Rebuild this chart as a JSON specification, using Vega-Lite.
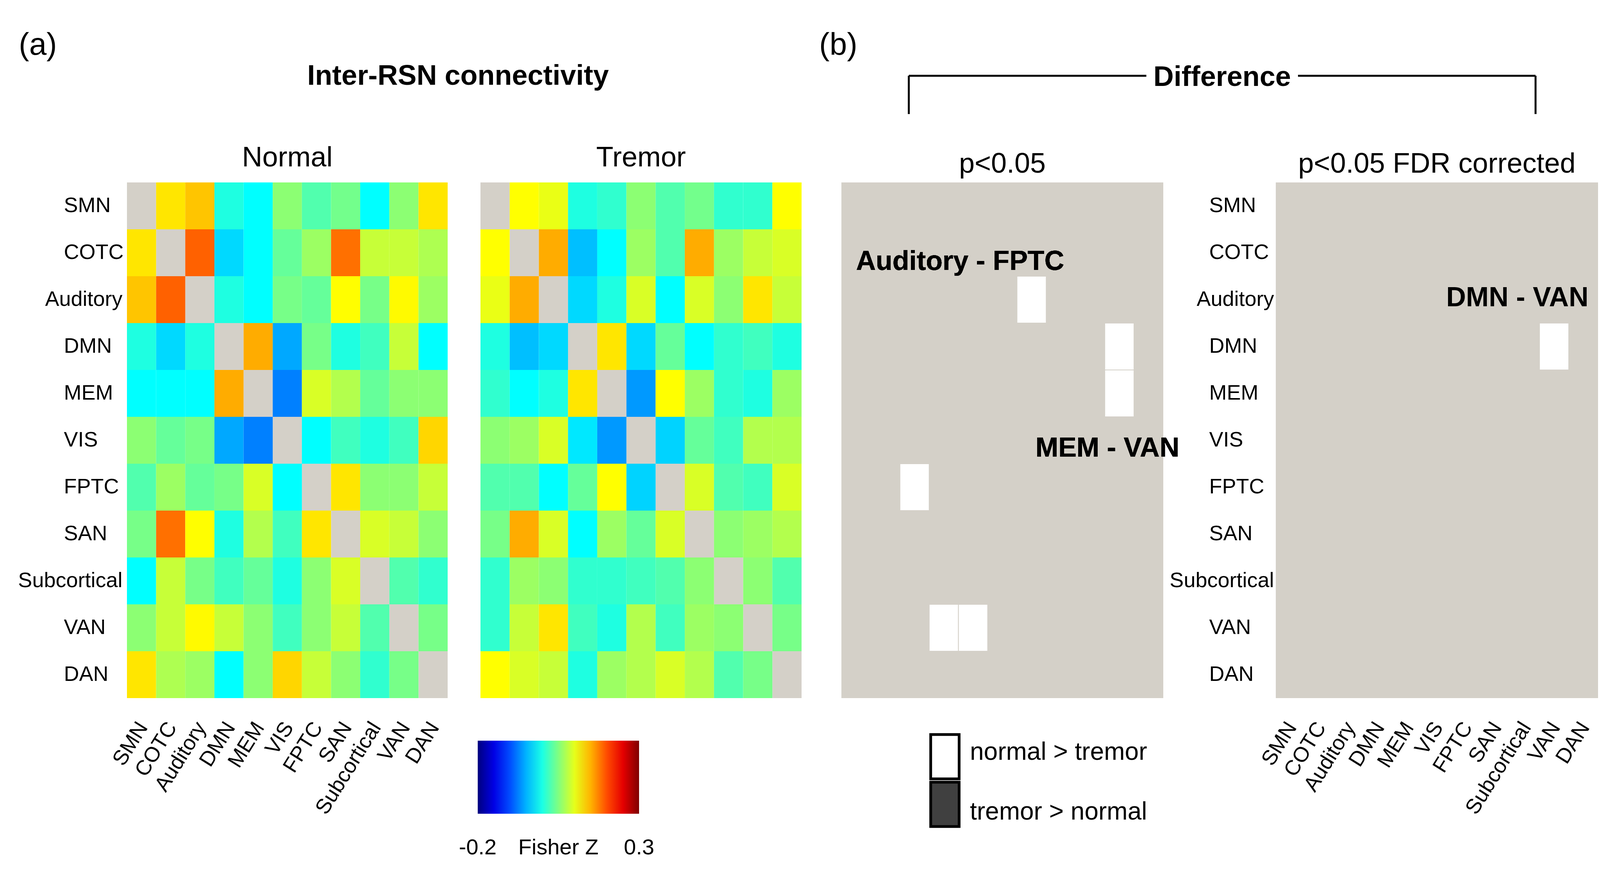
{
  "$schema": "https://vega.github.io/schema/vega-lite/v6.json",
  "background": "white",
  "padding": {"left": 45, "top": 76, "right": 6, "bottom": 0},
  "config": {
    "font": "Liberation Sans",
    "view": {"stroke": null},
    "axis": {"domain": false, "ticks": false, "grid": false, "labelFontSize": 54, "labelColor": "#000000", "labelFont": "Liberation Sans", "labelOverlap": false, "labelBound": false, "labelFlush": false, "labelLimit": 2000},
    "legend": {"labelLimit": 2000, "labelFont": "Liberation Sans"},
    "title": {"fontSize": 72, "fontWeight": "normal", "color": "#000000", "font": "Liberation Sans", "anchor": "middle"},
    "text": {"font": "Liberation Sans", "color": "#000000"}
  },
  "datasets": {
    "conn": [
      {"g":"Normal","r":"SMN","c":"SMN","z":null},{"g":"Normal","r":"SMN","c":"COTC","z":0.125},{"g":"Normal","r":"SMN","c":"Auditory","z":0.141},{"g":"Normal","r":"SMN","c":"DMN","z":0.002},{"g":"Normal","r":"SMN","c":"MEM","z":-0.0125},{"g":"Normal","r":"SMN","c":"VIS","z":0.056},{"g":"Normal","r":"SMN","c":"FPTC","z":0.027},{"g":"Normal","r":"SMN","c":"SAN","z":0.044},{"g":"Normal","r":"SMN","c":"Subcortical","z":-0.0125},{"g":"Normal","r":"SMN","c":"VAN","z":0.056},{"g":"Normal","r":"SMN","c":"DAN","z":0.125},
      {"g":"Normal","r":"COTC","c":"SMN","z":0.125},{"g":"Normal","r":"COTC","c":"COTC","z":null},{"g":"Normal","r":"COTC","c":"Auditory","z":0.19},{"g":"Normal","r":"COTC","c":"DMN","z":-0.031},{"g":"Normal","r":"COTC","c":"MEM","z":-0.0125},{"g":"Normal","r":"COTC","c":"VIS","z":0.037},{"g":"Normal","r":"COTC","c":"FPTC","z":0.064},{"g":"Normal","r":"COTC","c":"SAN","z":0.1825},{"g":"Normal","r":"COTC","c":"Subcortical","z":0.085},{"g":"Normal","r":"COTC","c":"VAN","z":0.085},{"g":"Normal","r":"COTC","c":"DAN","z":0.073},
      {"g":"Normal","r":"Auditory","c":"SMN","z":0.141},{"g":"Normal","r":"Auditory","c":"COTC","z":0.19},{"g":"Normal","r":"Auditory","c":"Auditory","z":null},{"g":"Normal","r":"Auditory","c":"DMN","z":0.002},{"g":"Normal","r":"Auditory","c":"MEM","z":-0.0125},{"g":"Normal","r":"Auditory","c":"VIS","z":0.046},{"g":"Normal","r":"Auditory","c":"FPTC","z":0.037},{"g":"Normal","r":"Auditory","c":"SAN","z":0.113},{"g":"Normal","r":"Auditory","c":"Subcortical","z":0.046},{"g":"Normal","r":"Auditory","c":"VAN","z":0.115},{"g":"Normal","r":"Auditory","c":"DAN","z":0.064},
      {"g":"Normal","r":"DMN","c":"SMN","z":0.002},{"g":"Normal","r":"DMN","c":"COTC","z":-0.031},{"g":"Normal","r":"DMN","c":"Auditory","z":0.002},{"g":"Normal","r":"DMN","c":"DMN","z":null},{"g":"Normal","r":"DMN","c":"MEM","z":0.153},{"g":"Normal","r":"DMN","c":"VIS","z":-0.055},{"g":"Normal","r":"DMN","c":"FPTC","z":0.046},{"g":"Normal","r":"DMN","c":"SAN","z":0.002},{"g":"Normal","r":"DMN","c":"Subcortical","z":0.019},{"g":"Normal","r":"DMN","c":"VAN","z":0.085},{"g":"Normal","r":"DMN","c":"DAN","z":-0.0125},
      {"g":"Normal","r":"MEM","c":"SMN","z":-0.0125},{"g":"Normal","r":"MEM","c":"COTC","z":-0.0125},{"g":"Normal","r":"MEM","c":"Auditory","z":-0.0125},{"g":"Normal","r":"MEM","c":"DMN","z":0.153},{"g":"Normal","r":"MEM","c":"MEM","z":null},{"g":"Normal","r":"MEM","c":"VIS","z":-0.075},{"g":"Normal","r":"MEM","c":"FPTC","z":0.094},{"g":"Normal","r":"MEM","c":"SAN","z":0.075},{"g":"Normal","r":"MEM","c":"Subcortical","z":0.037},{"g":"Normal","r":"MEM","c":"VAN","z":0.056},{"g":"Normal","r":"MEM","c":"DAN","z":0.056},
      {"g":"Normal","r":"VIS","c":"SMN","z":0.056},{"g":"Normal","r":"VIS","c":"COTC","z":0.037},{"g":"Normal","r":"VIS","c":"Auditory","z":0.046},{"g":"Normal","r":"VIS","c":"DMN","z":-0.055},{"g":"Normal","r":"VIS","c":"MEM","z":-0.075},{"g":"Normal","r":"VIS","c":"VIS","z":null},{"g":"Normal","r":"VIS","c":"FPTC","z":-0.0125},{"g":"Normal","r":"VIS","c":"SAN","z":0.019},{"g":"Normal","r":"VIS","c":"Subcortical","z":0.002},{"g":"Normal","r":"VIS","c":"VAN","z":0.019},{"g":"Normal","r":"VIS","c":"DAN","z":0.1325},
      {"g":"Normal","r":"FPTC","c":"SMN","z":0.027},{"g":"Normal","r":"FPTC","c":"COTC","z":0.064},{"g":"Normal","r":"FPTC","c":"Auditory","z":0.037},{"g":"Normal","r":"FPTC","c":"DMN","z":0.046},{"g":"Normal","r":"FPTC","c":"MEM","z":0.094},{"g":"Normal","r":"FPTC","c":"VIS","z":-0.0125},{"g":"Normal","r":"FPTC","c":"FPTC","z":null},{"g":"Normal","r":"FPTC","c":"SAN","z":0.125},{"g":"Normal","r":"FPTC","c":"Subcortical","z":0.056},{"g":"Normal","r":"FPTC","c":"VAN","z":0.056},{"g":"Normal","r":"FPTC","c":"DAN","z":0.085},
      {"g":"Normal","r":"SAN","c":"SMN","z":0.046},{"g":"Normal","r":"SAN","c":"COTC","z":0.1825},{"g":"Normal","r":"SAN","c":"Auditory","z":0.113},{"g":"Normal","r":"SAN","c":"DMN","z":0.002},{"g":"Normal","r":"SAN","c":"MEM","z":0.075},{"g":"Normal","r":"SAN","c":"VIS","z":0.019},{"g":"Normal","r":"SAN","c":"FPTC","z":0.125},{"g":"Normal","r":"SAN","c":"SAN","z":null},{"g":"Normal","r":"SAN","c":"Subcortical","z":0.094},{"g":"Normal","r":"SAN","c":"VAN","z":0.085},{"g":"Normal","r":"SAN","c":"DAN","z":0.056},
      {"g":"Normal","r":"Subcortical","c":"SMN","z":-0.0125},{"g":"Normal","r":"Subcortical","c":"COTC","z":0.085},{"g":"Normal","r":"Subcortical","c":"Auditory","z":0.046},{"g":"Normal","r":"Subcortical","c":"DMN","z":0.019},{"g":"Normal","r":"Subcortical","c":"MEM","z":0.037},{"g":"Normal","r":"Subcortical","c":"VIS","z":0.002},{"g":"Normal","r":"Subcortical","c":"FPTC","z":0.056},{"g":"Normal","r":"Subcortical","c":"SAN","z":0.094},{"g":"Normal","r":"Subcortical","c":"Subcortical","z":null},{"g":"Normal","r":"Subcortical","c":"VAN","z":0.027},{"g":"Normal","r":"Subcortical","c":"DAN","z":0.011},
      {"g":"Normal","r":"VAN","c":"SMN","z":0.056},{"g":"Normal","r":"VAN","c":"COTC","z":0.085},{"g":"Normal","r":"VAN","c":"Auditory","z":0.115},{"g":"Normal","r":"VAN","c":"DMN","z":0.085},{"g":"Normal","r":"VAN","c":"MEM","z":0.056},{"g":"Normal","r":"VAN","c":"VIS","z":0.019},{"g":"Normal","r":"VAN","c":"FPTC","z":0.056},{"g":"Normal","r":"VAN","c":"SAN","z":0.085},{"g":"Normal","r":"VAN","c":"Subcortical","z":0.027},{"g":"Normal","r":"VAN","c":"VAN","z":null},{"g":"Normal","r":"VAN","c":"DAN","z":0.046},
      {"g":"Normal","r":"DAN","c":"SMN","z":0.125},{"g":"Normal","r":"DAN","c":"COTC","z":0.073},{"g":"Normal","r":"DAN","c":"Auditory","z":0.064},{"g":"Normal","r":"DAN","c":"DMN","z":-0.0125},{"g":"Normal","r":"DAN","c":"MEM","z":0.056},{"g":"Normal","r":"DAN","c":"VIS","z":0.1325},{"g":"Normal","r":"DAN","c":"FPTC","z":0.085},{"g":"Normal","r":"DAN","c":"SAN","z":0.056},{"g":"Normal","r":"DAN","c":"Subcortical","z":0.011},{"g":"Normal","r":"DAN","c":"VAN","z":0.046},{"g":"Normal","r":"DAN","c":"DAN","z":null},
      {"g":"Tremor","r":"SMN","c":"SMN","z":null},{"g":"Tremor","r":"SMN","c":"COTC","z":0.1125},{"g":"Tremor","r":"SMN","c":"Auditory","z":0.102},{"g":"Tremor","r":"SMN","c":"DMN","z":0.002},{"g":"Tremor","r":"SMN","c":"MEM","z":0.011},{"g":"Tremor","r":"SMN","c":"VIS","z":0.056},{"g":"Tremor","r":"SMN","c":"FPTC","z":0.027},{"g":"Tremor","r":"SMN","c":"SAN","z":0.044},{"g":"Tremor","r":"SMN","c":"Subcortical","z":0.011},{"g":"Tremor","r":"SMN","c":"VAN","z":0.011},{"g":"Tremor","r":"SMN","c":"DAN","z":0.1125},
      {"g":"Tremor","r":"COTC","c":"SMN","z":0.1125},{"g":"Tremor","r":"COTC","c":"COTC","z":null},{"g":"Tremor","r":"COTC","c":"Auditory","z":0.153},{"g":"Tremor","r":"COTC","c":"DMN","z":-0.044},{"g":"Tremor","r":"COTC","c":"MEM","z":-0.0125},{"g":"Tremor","r":"COTC","c":"VIS","z":0.064},{"g":"Tremor","r":"COTC","c":"FPTC","z":0.027},{"g":"Tremor","r":"COTC","c":"SAN","z":0.153},{"g":"Tremor","r":"COTC","c":"Subcortical","z":0.064},{"g":"Tremor","r":"COTC","c":"VAN","z":0.085},{"g":"Tremor","r":"COTC","c":"DAN","z":0.094},
      {"g":"Tremor","r":"Auditory","c":"SMN","z":0.102},{"g":"Tremor","r":"Auditory","c":"COTC","z":0.153},{"g":"Tremor","r":"Auditory","c":"Auditory","z":null},{"g":"Tremor","r":"Auditory","c":"DMN","z":-0.031},{"g":"Tremor","r":"Auditory","c":"MEM","z":0.002},{"g":"Tremor","r":"Auditory","c":"VIS","z":0.094},{"g":"Tremor","r":"Auditory","c":"FPTC","z":-0.0125},{"g":"Tremor","r":"Auditory","c":"SAN","z":0.094},{"g":"Tremor","r":"Auditory","c":"Subcortical","z":0.056},{"g":"Tremor","r":"Auditory","c":"VAN","z":0.125},{"g":"Tremor","r":"Auditory","c":"DAN","z":0.085},
      {"g":"Tremor","r":"DMN","c":"SMN","z":0.002},{"g":"Tremor","r":"DMN","c":"COTC","z":-0.044},{"g":"Tremor","r":"DMN","c":"Auditory","z":-0.031},{"g":"Tremor","r":"DMN","c":"DMN","z":null},{"g":"Tremor","r":"DMN","c":"MEM","z":0.125},{"g":"Tremor","r":"DMN","c":"VIS","z":-0.031},{"g":"Tremor","r":"DMN","c":"FPTC","z":0.037},{"g":"Tremor","r":"DMN","c":"SAN","z":-0.0125},{"g":"Tremor","r":"DMN","c":"Subcortical","z":0.011},{"g":"Tremor","r":"DMN","c":"VAN","z":0.019},{"g":"Tremor","r":"DMN","c":"DAN","z":0.002},
      {"g":"Tremor","r":"MEM","c":"SMN","z":0.011},{"g":"Tremor","r":"MEM","c":"COTC","z":-0.0125},{"g":"Tremor","r":"MEM","c":"Auditory","z":0.002},{"g":"Tremor","r":"MEM","c":"DMN","z":0.125},{"g":"Tremor","r":"MEM","c":"MEM","z":null},{"g":"Tremor","r":"MEM","c":"VIS","z":-0.0625},{"g":"Tremor","r":"MEM","c":"FPTC","z":0.1125},{"g":"Tremor","r":"MEM","c":"SAN","z":0.064},{"g":"Tremor","r":"MEM","c":"Subcortical","z":0.011},{"g":"Tremor","r":"MEM","c":"VAN","z":0.002},{"g":"Tremor","r":"MEM","c":"DAN","z":0.064},
      {"g":"Tremor","r":"VIS","c":"SMN","z":0.056},{"g":"Tremor","r":"VIS","c":"COTC","z":0.064},{"g":"Tremor","r":"VIS","c":"Auditory","z":0.094},{"g":"Tremor","r":"VIS","c":"DMN","z":-0.024},{"g":"Tremor","r":"VIS","c":"MEM","z":-0.0625},{"g":"Tremor","r":"VIS","c":"VIS","z":null},{"g":"Tremor","r":"VIS","c":"FPTC","z":-0.034},{"g":"Tremor","r":"VIS","c":"SAN","z":0.037},{"g":"Tremor","r":"VIS","c":"Subcortical","z":0.019},{"g":"Tremor","r":"VIS","c":"VAN","z":0.075},{"g":"Tremor","r":"VIS","c":"DAN","z":0.075},
      {"g":"Tremor","r":"FPTC","c":"SMN","z":0.027},{"g":"Tremor","r":"FPTC","c":"COTC","z":0.027},{"g":"Tremor","r":"FPTC","c":"Auditory","z":-0.0125},{"g":"Tremor","r":"FPTC","c":"DMN","z":0.037},{"g":"Tremor","r":"FPTC","c":"MEM","z":0.1125},{"g":"Tremor","r":"FPTC","c":"VIS","z":-0.034},{"g":"Tremor","r":"FPTC","c":"FPTC","z":null},{"g":"Tremor","r":"FPTC","c":"SAN","z":0.094},{"g":"Tremor","r":"FPTC","c":"Subcortical","z":0.027},{"g":"Tremor","r":"FPTC","c":"VAN","z":0.019},{"g":"Tremor","r":"FPTC","c":"DAN","z":0.094},
      {"g":"Tremor","r":"SAN","c":"SMN","z":0.046},{"g":"Tremor","r":"SAN","c":"COTC","z":0.153},{"g":"Tremor","r":"SAN","c":"Auditory","z":0.094},{"g":"Tremor","r":"SAN","c":"DMN","z":-0.0125},{"g":"Tremor","r":"SAN","c":"MEM","z":0.064},{"g":"Tremor","r":"SAN","c":"VIS","z":0.037},{"g":"Tremor","r":"SAN","c":"FPTC","z":0.094},{"g":"Tremor","r":"SAN","c":"SAN","z":null},{"g":"Tremor","r":"SAN","c":"Subcortical","z":0.056},{"g":"Tremor","r":"SAN","c":"VAN","z":0.064},{"g":"Tremor","r":"SAN","c":"DAN","z":0.075},
      {"g":"Tremor","r":"Subcortical","c":"SMN","z":0.011},{"g":"Tremor","r":"Subcortical","c":"COTC","z":0.064},{"g":"Tremor","r":"Subcortical","c":"Auditory","z":0.056},{"g":"Tremor","r":"Subcortical","c":"DMN","z":0.011},{"g":"Tremor","r":"Subcortical","c":"MEM","z":0.011},{"g":"Tremor","r":"Subcortical","c":"VIS","z":0.019},{"g":"Tremor","r":"Subcortical","c":"FPTC","z":0.027},{"g":"Tremor","r":"Subcortical","c":"SAN","z":0.056},{"g":"Tremor","r":"Subcortical","c":"Subcortical","z":null},{"g":"Tremor","r":"Subcortical","c":"VAN","z":0.056},{"g":"Tremor","r":"Subcortical","c":"DAN","z":0.027},
      {"g":"Tremor","r":"VAN","c":"SMN","z":0.011},{"g":"Tremor","r":"VAN","c":"COTC","z":0.085},{"g":"Tremor","r":"VAN","c":"Auditory","z":0.125},{"g":"Tremor","r":"VAN","c":"DMN","z":0.019},{"g":"Tremor","r":"VAN","c":"MEM","z":0.002},{"g":"Tremor","r":"VAN","c":"VIS","z":0.075},{"g":"Tremor","r":"VAN","c":"FPTC","z":0.019},{"g":"Tremor","r":"VAN","c":"SAN","z":0.064},{"g":"Tremor","r":"VAN","c":"Subcortical","z":0.056},{"g":"Tremor","r":"VAN","c":"VAN","z":null},{"g":"Tremor","r":"VAN","c":"DAN","z":0.046},
      {"g":"Tremor","r":"DAN","c":"SMN","z":0.1125},{"g":"Tremor","r":"DAN","c":"COTC","z":0.094},{"g":"Tremor","r":"DAN","c":"Auditory","z":0.085},{"g":"Tremor","r":"DAN","c":"DMN","z":0.002},{"g":"Tremor","r":"DAN","c":"MEM","z":0.064},{"g":"Tremor","r":"DAN","c":"VIS","z":0.075},{"g":"Tremor","r":"DAN","c":"FPTC","z":0.094},{"g":"Tremor","r":"DAN","c":"SAN","z":0.075},{"g":"Tremor","r":"DAN","c":"Subcortical","z":0.027},{"g":"Tremor","r":"DAN","c":"VAN","z":0.046},{"g":"Tremor","r":"DAN","c":"DAN","z":null}
    ],
    "diff": [
      {"p":"p<0.05","r":"Auditory","c":"FPTC","sig":"normal > tremor"},
      {"p":"p<0.05","r":"FPTC","c":"Auditory","sig":"normal > tremor"},
      {"p":"p<0.05","r":"DMN","c":"VAN","sig":"normal > tremor"},
      {"p":"p<0.05","r":"VAN","c":"DMN","sig":"normal > tremor"},
      {"p":"p<0.05","r":"MEM","c":"VAN","sig":"normal > tremor"},
      {"p":"p<0.05","r":"VAN","c":"MEM","sig":"normal > tremor"},
      {"p":"FDR","r":"DMN","c":"VAN","sig":"normal > tremor"}
    ]
  },
  "hconcat": [
    {
      "width": 821,
      "height": 1320,
      "title": {"text": "Normal", "offset": 26},
      "data": {"name": "conn"},
      "transform": [{"filter": "datum.g === 'Normal'"}],
      "encoding": {
        "x": {"field": "c", "type": "nominal",
              "scale": {"domain": ["SMN","COTC","Auditory","DMN","MEM","VIS","FPTC","SAN","Subcortical","VAN","DAN"], "paddingInner": 0, "paddingOuter": 0},
              "axis": {"orient": "bottom", "title": null, "labelAngle": -58, "labelAlign": "right", "labelBaseline": "middle", "labelPadding": 66, "labelOffset": 4}},
        "y": {"field": "r", "type": "nominal",
              "scale": {"domain": ["SMN","COTC","Auditory","DMN","MEM","VIS","FPTC","SAN","Subcortical","VAN","DAN"], "paddingInner": 0, "paddingOuter": 0},
              "axis": {"orient": "left", "title": null, "labelBaseline": "middle",
                       "labelAlign": {"condition": {"test": "datum.value === 'Auditory' || datum.value === 'Subcortical'", "value": "right"}, "value": "left"},
                       "labelPadding": {"condition": {"test": "datum.value === 'Auditory' || datum.value === 'Subcortical'", "value": 12}, "value": 162}}}
      },
      "layer": [
        {"transform": [{"filter": "datum.z === null"}], "mark": {"type": "rect", "color": "#D4D0C8"}},
        {"transform": [{"filter": "datum.z !== null"}], "mark": {"type": "rect"},
         "encoding": {"color": {"field": "z", "type": "quantitative",
           "scale": {"type": "linear", "domain": [-0.2, -0.1375, -0.0125, 0.1125, 0.2375, 0.3], "range": ["#00007F","#0000FF","#00FFFF","#FFFF00","#FF0000","#7F0000"], "interpolate": "rgb"},
           "legend": null}}}
      ]
    },
    {
      "width": 84,
      "height": 1320,
      "data": {"values": [{}]},
      "layer": [
        {"mark": {"type": "text", "text": "Inter-RSN connectivity", "fontSize": 72, "fontWeight": "bold", "align": "center", "baseline": "alphabetic", "dy": 23},
         "encoding": {"x": {"datum": 0.4907, "type": "quantitative", "scale": {"domain": [0, 1], "range": [-821, 906], "nice": false, "zero": false}, "axis": null},
                      "y": {"datum": 1, "type": "quantitative", "scale": {"domain": [0, 1], "range": [-175, -273], "nice": false, "zero": false}, "axis": null}}},
        {"mark": {"type": "text", "text": "(a)", "fontSize": 80, "align": "left", "baseline": "alphabetic", "dy": -54},
         "encoding": {"x": {"datum": -0.1604, "type": "quantitative"}, "y": {"datum": 1, "type": "quantitative"}}}
      ]
    },
    {
      "width": 822,
      "height": 1320,
      "title": {"text": "Tremor", "offset": 26},
      "data": {"name": "conn"},
      "transform": [{"filter": "datum.g === 'Tremor'"}],
      "encoding": {
        "x": {"field": "c", "type": "nominal",
              "scale": {"domain": ["SMN","COTC","Auditory","DMN","MEM","VIS","FPTC","SAN","Subcortical","VAN","DAN"], "paddingInner": 0, "paddingOuter": 0}, "axis": null},
        "y": {"field": "r", "type": "nominal",
              "scale": {"domain": ["SMN","COTC","Auditory","DMN","MEM","VIS","FPTC","SAN","Subcortical","VAN","DAN"], "paddingInner": 0, "paddingOuter": 0}, "axis": null}
      },
      "layer": [
        {"transform": [{"filter": "datum.z === null"}], "mark": {"type": "rect", "color": "#D4D0C8"}},
        {"transform": [{"filter": "datum.z !== null"}], "mark": {"type": "rect"},
         "encoding": {"color": {"field": "z", "type": "quantitative",
           "scale": {"type": "linear", "domain": [-0.2, -0.1375, -0.0125, 0.1125, 0.2375, 0.3], "range": ["#00007F","#0000FF","#00FFFF","#FFFF00","#FF0000","#7F0000"], "interpolate": "rgb"},
           "legend": {"orient": "none", "legendX": -7, "legendY": 1429, "direction": "horizontal", "title": null, "padding": 0,
                      "gradientLength": 413, "gradientThickness": 187, "gradientStrokeWidth": 0,
                      "values": [-0.2, 0.05, 0.3],
                      "labelExpr": "datum.value < -0.1 ? '-0.2' : datum.value > 0.2 ? '0.3' : 'Fisher Z'",
                      "labelFontSize": 56, "labelColor": "#000000", "labelAlign": "center", "labelOffset": 60, "labelOverlap": false,
                      "encode": {"labels": {"update": {"align": {"value": "center"}}}}}}}}
      ]
    },
    {
      "width": 102,
      "height": 1320,
      "data": {"values": [{}]},
      "layer": [
        {"mark": {"type": "rule", "strokeWidth": 5, "color": "#000000"},
         "encoding": {"x": {"datum": 0, "type": "quantitative", "scale": {"domain": [0, 1], "range": [274.5, 1879], "nice": false, "zero": false}, "axis": null},
                      "y": {"datum": 0, "type": "quantitative", "scale": {"domain": [0, 1], "range": [-175, -273], "nice": false, "zero": false}, "axis": null},
                      "y2": {"datum": 1}}},
        {"mark": {"type": "rule", "strokeWidth": 5, "color": "#000000"},
         "encoding": {"x": {"datum": 1, "type": "quantitative"}, "y": {"datum": 0, "type": "quantitative"}, "y2": {"datum": 1}}},
        {"mark": {"type": "rule", "strokeWidth": 5, "color": "#000000"},
         "encoding": {"x": {"datum": 0, "type": "quantitative"}, "x2": {"datum": 0.379}, "y": {"datum": 1, "type": "quantitative"}}},
        {"mark": {"type": "rule", "strokeWidth": 5, "color": "#000000"},
         "encoding": {"x": {"datum": 0.621, "type": "quantitative"}, "x2": {"datum": 1}, "y": {"datum": 1, "type": "quantitative"}}},
        {"mark": {"type": "text", "text": "Difference", "fontSize": 72, "fontWeight": "bold", "align": "center", "baseline": "alphabetic", "dy": 26},
         "encoding": {"x": {"datum": 0.5, "type": "quantitative"}, "y": {"datum": 1, "type": "quantitative"}}},
        {"mark": {"type": "text", "text": "(b)", "fontSize": 80, "align": "left", "baseline": "alphabetic", "dy": -54},
         "encoding": {"x": {"datum": -0.143, "type": "quantitative"}, "y": {"datum": 1, "type": "quantitative"}}}
      ]
    },
    {
      "width": 824,
      "height": 1320,
      "title": {"text": "p<0.05", "offset": 10},
      "view": {"fill": "#D4D0C8", "stroke": null},
      "data": {"name": "diff"},
      "transform": [{"filter": "datum.p === 'p<0.05'"}],
      "encoding": {
        "x": {"field": "c", "type": "nominal",
              "scale": {"domain": ["SMN","COTC","Auditory","DMN","MEM","VIS","FPTC","SAN","Subcortical","VAN","DAN"], "paddingInner": 0, "paddingOuter": 0}, "axis": null},
        "y": {"field": "r", "type": "nominal",
              "scale": {"domain": ["SMN","COTC","Auditory","DMN","MEM","VIS","FPTC","SAN","Subcortical","VAN","DAN"], "paddingInner": 0, "paddingOuter": 0}, "axis": null}
      },
      "layer": [
        {"mark": {"type": "rect", "stroke": "#D4D0C8", "strokeWidth": 2},
         "encoding": {"color": {"field": "sig", "type": "nominal",
           "scale": {"domain": ["normal > tremor", "tremor > normal"], "range": ["#FFFFFF", "#404040"]},
           "legend": {"orient": "none", "legendX": 214, "legendY": 1419, "title": null, "padding": 0, "direction": "vertical",
                      "symbolType": "M-0.77,-1.2H0.77V1.2H-0.77Z", "symbolSize": 8930, "symbolStrokeColor": "#000000", "symbolStrokeWidth": 7, "symbolOpacity": 1,
                      "labelFontSize": 64, "labelColor": "#000000", "labelOffset": 13, "rowPadding": -24,
                      "encode": {"symbols": {"update": {"stroke": {"value": "#000000"}, "strokeWidth": {"value": 7}}},
                                 "labels": {"update": {"dy": {"signal": "datum.index === 0 ? -11 : 20"}}}}}}}},
        {"mark": {"type": "text", "text": "Auditory - FPTC", "fontSize": 70, "fontWeight": "bold", "align": "left", "baseline": "alphabetic", "dy": 44},
         "encoding": {"x": {"datum": "SMN"}, "y": {"datum": "COTC"}}},
        {"mark": {"type": "text", "text": "MEM - VAN", "fontSize": 70, "fontWeight": "bold", "align": "left", "baseline": "alphabetic", "dx": 10, "dy": 42},
         "encoding": {"x": {"datum": "FPTC"}, "y": {"datum": "VIS"}}}
      ]
    },
    {
      "width": 288,
      "height": 1320,
      "data": {"values": [{}]},
      "mark": {"type": "text", "text": ""},
      "encoding": {}
    },
    {
      "width": 825,
      "height": 1320,
      "title": {"text": "p<0.05 FDR corrected", "offset": 10},
      "view": {"fill": "#D4D0C8", "stroke": null},
      "data": {"name": "diff"},
      "transform": [{"filter": "datum.p === 'FDR'"}],
      "encoding": {
        "x": {"field": "c", "type": "nominal",
              "scale": {"domain": ["SMN","COTC","Auditory","DMN","MEM","VIS","FPTC","SAN","Subcortical","VAN","DAN"], "paddingInner": 0, "paddingOuter": 0},
              "axis": {"orient": "bottom", "title": null, "labelAngle": -58, "labelAlign": "right", "labelBaseline": "middle", "labelPadding": 66, "labelOffset": 4}},
        "y": {"field": "r", "type": "nominal",
              "scale": {"domain": ["SMN","COTC","Auditory","DMN","MEM","VIS","FPTC","SAN","Subcortical","VAN","DAN"], "paddingInner": 0, "paddingOuter": 0},
              "axis": {"orient": "left", "title": null, "labelBaseline": "middle",
                       "labelAlign": {"condition": {"test": "datum.value === 'Auditory' || datum.value === 'Subcortical'", "value": "right"}, "value": "left"},
                       "labelPadding": {"condition": {"test": "datum.value === 'Auditory' || datum.value === 'Subcortical'", "value": 5}, "value": 171}}}
      },
      "layer": [
        {"mark": {"type": "rect", "stroke": "#D4D0C8", "strokeWidth": 2},
         "encoding": {"color": {"field": "sig", "type": "nominal",
           "scale": {"domain": ["normal > tremor", "tremor > normal"], "range": ["#FFFFFF", "#404040"]},
           "legend": null}}},
        {"mark": {"type": "text", "text": "DMN - VAN", "fontSize": 70, "fontWeight": "bold", "align": "right", "baseline": "alphabetic", "dx": 13, "dy": 17},
         "encoding": {"x": {"datum": "DAN"}, "y": {"datum": "Auditory"}}}
      ]
    }
  ],
  "spacing": 0,
  "bounds": "flush",
  "resolve": {"scale": {"x": "independent", "y": "independent", "color": "independent"}, "axis": {"x": "independent", "y": "independent"}, "legend": {"color": "independent"}}
}
